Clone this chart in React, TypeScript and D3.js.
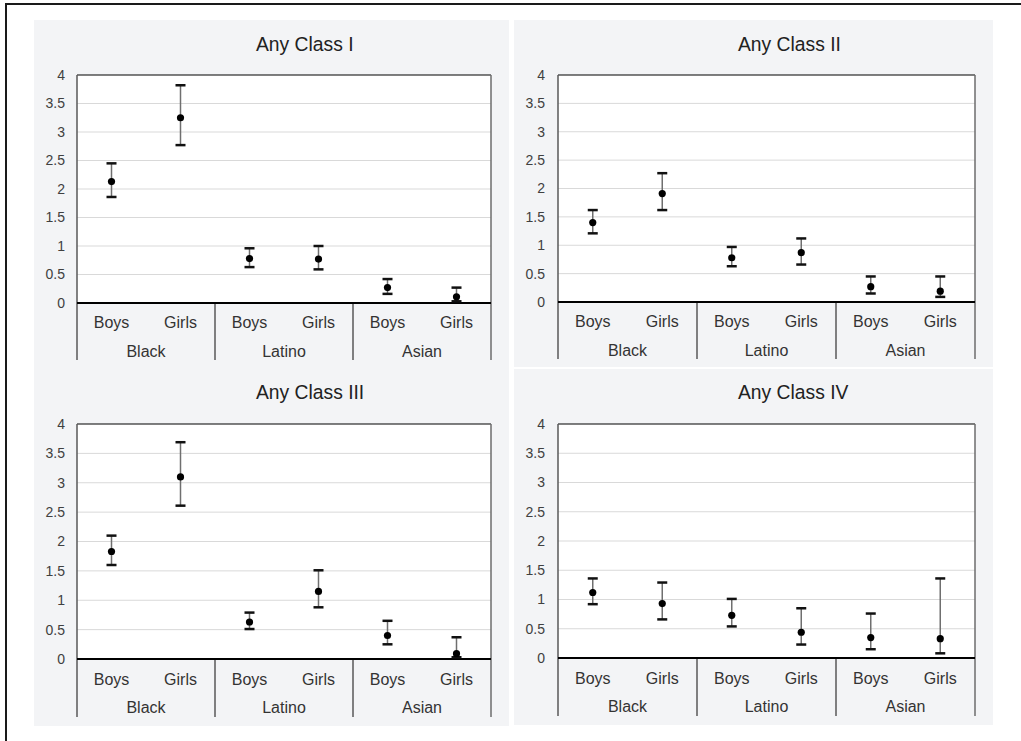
import React from "react";
import * as d3 from "d3";

const groups = ["Black", "Latino", "Asian"];
const sexes = ["Boys", "Girls"];
const yTicks = [0, 0.5, 1, 1.5, 2, 2.5, 3, 3.5, 4];
const titles = ["Any Class I", "Any Class II", "Any Class III", "Any Class IV"];

// order: Black Boys, Black Girls, Latino Boys, Latino Girls, Asian Boys, Asian Girls
const class1Est = [2.13, 3.25, 0.78, 0.77, 0.27, 0.11];
const class1Lo = [1.86, 2.77, 0.63, 0.59, 0.16, 0.03];
const class1Hi = [2.45, 3.82, 0.96, 1.0, 0.42, 0.27];

const class2Est = [1.4, 1.91, 0.78, 0.87, 0.27, 0.19];
const class2Lo = [1.21, 1.62, 0.63, 0.66, 0.15, 0.09];
const class2Hi = [1.62, 2.27, 0.97, 1.12, 0.45, 0.45];

const class3Est = [1.83, 3.1, 0.63, 1.15, 0.4, 0.09];
const class3Lo = [1.6, 2.61, 0.51, 0.88, 0.25, 0.03];
const class3Hi = [2.1, 3.69, 0.79, 1.51, 0.65, 0.37];

const class4Est = [1.12, 0.93, 0.73, 0.44, 0.35, 0.33];
const class4Lo = [0.92, 0.66, 0.54, 0.23, 0.15, 0.08];
const class4Hi = [1.36, 1.29, 1.01, 0.85, 0.76, 1.36];

const seriesEst = [class1Est, class2Est, class3Est, class4Est];
const seriesLo = [class1Lo, class2Lo, class3Lo, class4Lo];
const seriesHi = [class1Hi, class2Hi, class3Hi, class4Hi];

const FONT = "'Liberation Sans', Arial, sans-serif";

type Layout = {
  left: number;
  right: number;
  top: number;
  bottom: number;
  titleX: number;
  titleY: number;
  tickX: number;
  catY: number;
  grpY: number;
  sepBottom: number;
};

const layouts: Layout[] = [
  { left: 77, right: 491, top: 75, bottom: 303, titleX: 256, titleY: 51, tickX: 65, catY: 328, grpY: 357, sepBottom: 360 },
  { left: 558, right: 975, top: 75, bottom: 302, titleX: 738, titleY: 51, tickX: 545, catY: 327, grpY: 356, sepBottom: 359 },
  { left: 77, right: 491, top: 424, bottom: 659, titleX: 256, titleY: 399, tickX: 65, catY: 685, grpY: 713, sepBottom: 717 },
  { left: 558, right: 975, top: 424, bottom: 658, titleX: 738, titleY: 399, tickX: 545, catY: 684, grpY: 712, sepBottom: 716 },
];

function Panel({ idx }: { idx: number }) {
  const L = layouts[idx];
  const cats = groups.flatMap((g) => sexes.map((s) => g + "|" + s));
  const x = d3.scaleBand<string>().domain(cats).range([L.left, L.right]).padding(0);
  const xg = d3.scaleBand<string>().domain(groups).range([L.left, L.right]).padding(0);
  const y = d3.scaleLinear().domain([0, 4]).range([L.bottom, L.top]);
  const est = seriesEst[idx];
  const lo = seriesLo[idx];
  const hi = seriesHi[idx];
  const capW = 5;
  return (
    <g>
      <rect x={L.left} y={L.top} width={L.right - L.left} height={L.bottom - L.top} fill="#ffffff" />
      {yTicks.map((t) => (
        <g key={t}>
          {t > 0 && t < 4 && (
            <line x1={L.left} x2={L.right} y1={y(t)} y2={y(t)} stroke="#d9d9d9" strokeWidth={1} />
          )}
          <text x={L.tickX} y={y(t)} dy="0.35em" textAnchor="end" fontSize={14} fill="#404040" fontFamily={FONT}>
            {t}
          </text>
        </g>
      ))}
      <line x1={L.left} x2={L.right} y1={L.top} y2={L.top} stroke="#000" strokeWidth={1.2} />
      <line x1={L.left} x2={L.left} y1={L.top} y2={L.sepBottom} stroke="#595959" strokeWidth={1.5} />
      <line x1={L.right} x2={L.right} y1={L.top} y2={L.sepBottom} stroke="#6d6d6d" strokeWidth={1.5} />
      {groups.slice(1).map((g) => (
        <line key={g} x1={xg(g)!} x2={xg(g)!} y1={L.bottom} y2={L.sepBottom} stroke="#595959" strokeWidth={1.5} />
      ))}
      <line x1={L.left} x2={L.right} y1={L.bottom} y2={L.bottom} stroke="#000" strokeWidth={2.2} />
      {cats.map((c, i) => {
        const cx = x(c)! + x.bandwidth() / 2;
        return (
          <g key={c}>
            <line x1={cx} x2={cx} y1={y(hi[i])} y2={y(lo[i])} stroke="#6f6f6f" strokeWidth={1.5} />
            <line x1={cx - capW} x2={cx + capW} y1={y(hi[i])} y2={y(hi[i])} stroke="#111" strokeWidth={2.5} />
            <line x1={cx - capW} x2={cx + capW} y1={y(lo[i])} y2={y(lo[i])} stroke="#111" strokeWidth={2.5} />
            <circle cx={cx} cy={y(est[i])} r={3.6} fill="#000" />
            <text x={cx} y={L.catY} textAnchor="middle" fontSize={16} fill="#333" fontFamily={FONT}>
              {c.split("|")[1]}
            </text>
          </g>
        );
      })}
      {groups.map((g) => (
        <text key={g} x={xg(g)! + xg.bandwidth() / 2} y={L.grpY} textAnchor="middle" fontSize={16} fill="#333" fontFamily={FONT}>
          {g}
        </text>
      ))}
      <text x={L.titleX} y={L.titleY} fontSize={19.3} fill="#222" fontFamily={FONT}>
        {titles[idx]}
      </text>
    </g>
  );
}

export default function App() {
  return (
    <svg width={1021} height={741} style={{ position: "absolute", left: 0, top: 0 }}>
      <rect x={0} y={0} width={1021} height={741} fill="#ffffff" />
      <line x1={6} x2={1021} y1={4} y2={4} stroke="#1a1a1a" strokeWidth={2} />
      <line x1={6} x2={6} y1={3} y2={741} stroke="#1a1a1a" strokeWidth={2} />
      <rect x={34} y={20} width={475} height={706} fill="#f3f4f6" />
      <rect x={514} y={20} width={479} height={347} fill="#f3f4f6" />
      <rect x={514} y={369} width={479} height={356} fill="#f3f4f6" />
      {[0, 1, 2, 3].map((i) => (
        <Panel key={i} idx={i} />
      ))}
    </svg>
  );
}
